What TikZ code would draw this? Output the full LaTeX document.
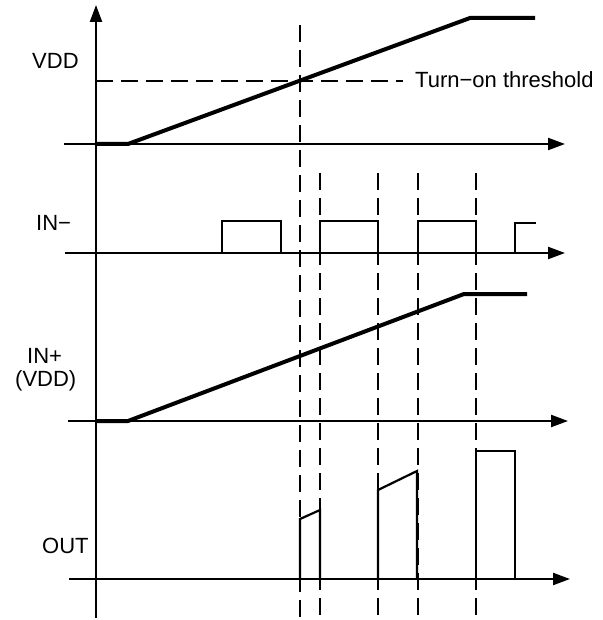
\documentclass[tikz,border=0pt]{standalone}
\usepackage{fontspec}
\setmainfont{Liberation Sans}
\usetikzlibrary{arrows.meta}
\begin{document}
\begin{tikzpicture}[x=1pt,y=-1pt,
  axis/.style={line width=2.2pt,-{Triangle[length=17pt,width=12pt]}},
  ramp/.style={line width=4pt,line join=miter},
  pulse/.style={line width=2.2pt,line join=miter},
  guide/.style={line width=2.8pt,dash pattern=on 17pt off 8pt},
  lbl/.style={font=\fontsize{22}{26}\selectfont,inner sep=0pt,anchor=base west}]
\useasboundingbox (0,0) rectangle (602,620);
% axes
\draw[axis] (96,618) -- (96,5);
\draw[axis] (64,144) -- (565,144);
\draw[axis] (65,253) -- (565,253);
\draw[axis] (68,421) -- (568,421);
\draw[axis] (69,579) -- (570,579);
% guides
\draw[guide] (300,25) -- (300,618);
\draw[guide] (320,173) -- (320,618);
\draw[guide] (378,173) -- (378,618);
\draw[guide] (418,173) -- (418,618);
\draw[guide] (476,173) -- (476,618);
\draw[line width=2.2pt,dash pattern=on 17pt off 8pt] (96,81) -- (403,81);
% VDD
\draw[ramp] (96,144) -- (128,144) -- (470,18) -- (535,18);
% IN-
\draw[pulse] (222,253) -- (222,221) -- (281,221) -- (281,253);
\draw[pulse] (320,253) -- (320,221) -- (378,221) -- (378,253);
\draw[pulse] (418,253) -- (418,221) -- (476,221) -- (476,253);
\draw[pulse] (515,253) -- (515,223) -- (536,223);
% IN+
\draw[ramp] (96,421) -- (128,421) -- (464,294) -- (527,294);
% OUT
\draw[pulse] (300,579) -- (300,519) -- (320,510) -- (320,579);
\draw[pulse] (378,579) -- (378,490) -- (417,471) -- (417,579);
\draw[pulse] (476,579) -- (476,451) -- (515,451) -- (515,579);
% labels
\node[lbl] (vdd) at (32,69) {VDD};
\node[lbl] (thr) at (415,88) {Turn−on threshold};
\node[lbl] (inm) at (36,230) {IN−};
\node[lbl] (inp) at (27,363) {IN+};
\node[lbl] (inpv) at (15,386) {(VDD)};
\node[lbl] (out) at (42,553) {OUT};
\end{tikzpicture}
\end{document}
